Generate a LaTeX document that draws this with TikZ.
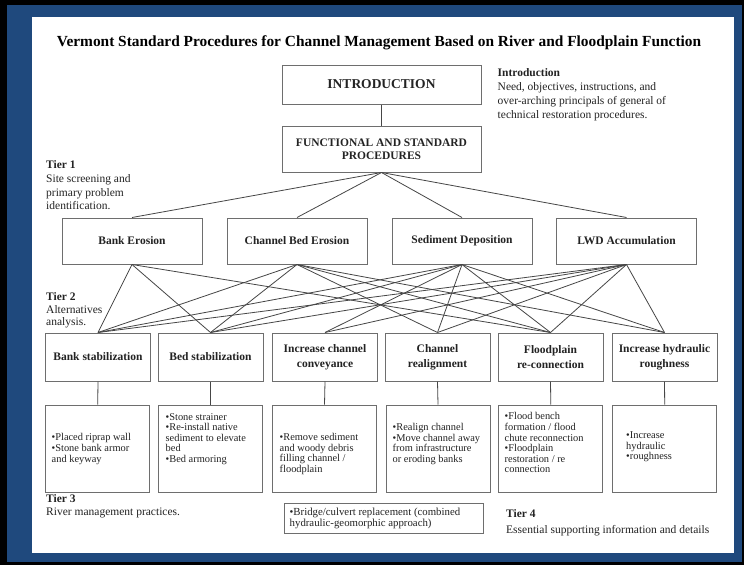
\documentclass[tikz,border=0pt]{standalone}
\usepackage{fontspec}
\setmainfont{Liberation Serif}
\definecolor{frameblue}{RGB}{31,73,125}
\definecolor{boxline}{RGB}{110,110,110}
\definecolor{connline}{RGB}{70,70,70}
\definecolor{txt}{RGB}{35,35,35}
\begin{document}
\begin{tikzpicture}[x=1pt,y=-1pt,
  box/.style={draw=boxline, line width=1pt, fill=white, inner sep=0pt, align=center, text=txt},
  headbox/.style={box, font=\fontsize{11.5}{12.5}\selectfont\bfseries},
  tieronebox/.style={box, minimum width=140pt, minimum height=46pt, font=\fontsize{11.5}{13}\selectfont\bfseries},
  tiertwobox/.style={box, minimum width=105pt, minimum height=48pt, font=\fontsize{11.5}{15}\selectfont\bfseries},
  tierthreebox/.style={box, minimum width=104pt, minimum height=87pt},
  boxtext/.style={anchor=north west, inner sep=0pt, align=left, text=txt, font=\fontsize{10.4}{10.6}\selectfont},
  sidetext/.style={anchor=north west, inner sep=0pt, align=left, text=txt},
  conn/.style={draw=connline, line width=0.8pt}
]
\useasboundingbox (0,0) rectangle (744,565);
\fill[black] (0,0) rectangle (744,565);
\fill[frameblue] (7,5) rectangle (742,562);
\fill[white] (32,17) rectangle (734,553);

% title
\node[inner sep=0pt, text=black, font=\fontsize{15.4}{17}\selectfont\bfseries] (title) at (379,43) {Vermont Standard Procedures for Channel Management Based on River and Floodplain Function};

% top boxes
\node[headbox, minimum width=199pt, minimum height=39pt, font=\fontsize{13.5}{15}\selectfont\bfseries] (intro) at (381.5,84.5) {INTRODUCTION};
\node[headbox, minimum width=199pt, minimum height=46pt] (func) at (381.5,149) {FUNCTIONAL AND STANDARD\\PROCEDURES};

\node[sidetext, font=\fontsize{11.5}{14}\selectfont] (introtext) at (497.5,68.5) {\textbf{Introduction}\\Need, objectives, instructions, and\\over-arching principals of general of\\technical restoration procedures.};

% tier labels
\node[sidetext, font=\fontsize{11.5}{13.7}\selectfont] (tieronetext) at (46,160.5) {\textbf{Tier 1}\\Site screening and\\primary problem\\identification.};
\node[sidetext, font=\fontsize{11.5}{12.6}\selectfont] (tiertwotext) at (46,292.5) {\textbf{Tier 2}\\Alternatives\\analysis.};
\node[sidetext, font=\fontsize{11.5}{13}\selectfont] (tierthreetext) at (46,494) {\textbf{Tier 3}\\River management practices.};
\node[sidetext, font=\fontsize{11.5}{15.5}\selectfont] (tierfourtext) at (506,509.5) {\textbf{Tier 4}\\Essential supporting information and details};

% tier 1
\node[tieronebox] (be) at (132,241) {Bank Erosion};
\node[tieronebox] (cb) at (297,241) {Channel Bed Erosion};
\node[tieronebox] (sd) at (462,241) {Sediment Deposition};
\node[tieronebox] (lwd) at (626.5,241) {LWD Accumulation};

% tier 2
\node[tiertwobox] (bankstab) at (98,357) {Bank stabilization};
\node[tiertwobox] (bedstab) at (210.5,357) {Bed stabilization};
\node[tiertwobox] (convey) at (325,357) {Increase channel\\conveyance};
\node[tiertwobox] (realign) at (437.5,357) {Channel\\realignment};
\node[tiertwobox] (floodpl) at (550.5,357) {Floodplain\\re-connection};
\node[tiertwobox] (rough) at (664.5,357) {Increase hydraulic\\roughness};

% tier 3
\node[tierthreebox] (pbank) at (97.7,448.5) {};
\node[tierthreebox] (pbed) at (210.5,448.5) {};
\node[tierthreebox] (pconv) at (324.5,448.5) {};
\node[tierthreebox] (preal) at (438,448.5) {};
\node[tierthreebox] (pflood) at (550.8,448.5) {};
\node[tierthreebox] (prough) at (664.7,448.5) {};

\node[boxtext] (tbank) at (51.5,433.5) {•Placed riprap wall\\•Stone bank armor\\and keyway};
\node[boxtext] (tbed) at (165.5,413) {•Stone strainer\\•Re-install native\\sediment to elevate\\bed\\•Bed armoring};
\node[boxtext] (tconv) at (279.5,433) {•Remove sediment\\and woody debris\\filling channel /\\floodplain};
\node[boxtext] (treal) at (392.5,423) {•Realign channel\\•Move channel away\\from infrastructure\\or eroding banks};
\node[boxtext] (tflood) at (504.5,412.5) {•Flood bench\\formation / flood\\chute reconnection\\•Floodplain\\restoration / re\\connection};
\node[boxtext] (trough) at (626,431.5) {•Increase\\hydraulic\\•roughness};

% tier 4 box
\node[box, minimum width=199pt, minimum height=30pt] (bridge) at (383.5,518) {};
\node[boxtext, font=\fontsize{10.8}{10.8}\selectfont] (tbridge) at (289.5,507.5) {•Bridge/culvert replacement (combined\\hydraulic-geomorphic approach)};

% connectors
\draw[conn] (intro.south) -- (func.north);
\foreach \t in {be,cb,sd,lwd} \draw[conn] (func.south) -- (\t.north);
\foreach \t in {bankstab,bedstab,floodpl} \draw[conn] (be.south) -- (\t.north);
\foreach \t in {bankstab,bedstab,realign,floodpl,rough} \draw[conn] (cb.south) -- (\t.north);
\foreach \t in {bankstab,bedstab,convey,realign,floodpl,rough} \draw[conn] (sd.south) -- (\t.north);
\foreach \t in {bankstab,bedstab,convey,realign,floodpl,rough} \draw[conn] (lwd.south) -- (\t.north);
\draw[conn] (bankstab.south) -- (pbank.north);
\draw[conn] (bedstab.south) -- (pbed.north);
\draw[conn] (convey.south) -- (pconv.north);
\draw[conn] (realign.south) -- (preal.north);
\draw[conn] (floodpl.south) -- (pflood.north);
\draw[conn] (rough.south) -- (prough.north);
\end{tikzpicture}
\end{document}
